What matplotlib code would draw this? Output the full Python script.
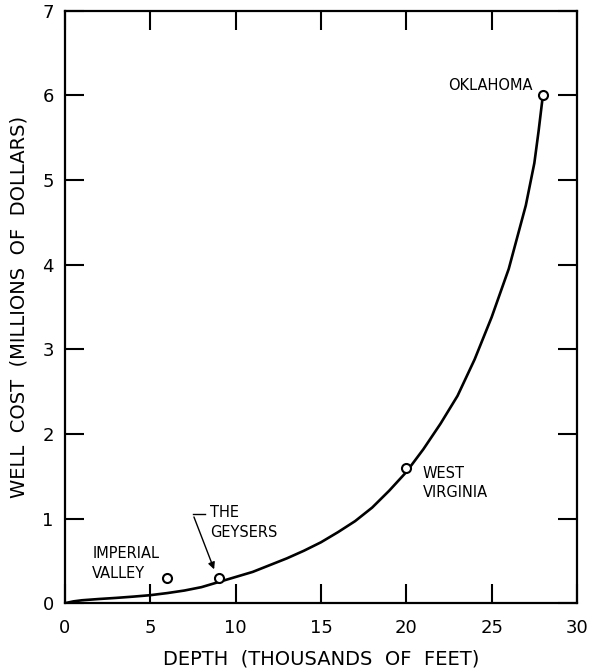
import matplotlib.pyplot as plt

# cost curve (depth in thousands of feet, cost in millions of $)
curve_depth = [0, 0.5, 1, 2, 3, 4, 5, 6, 7, 8, 9, 10, 11, 12, 13, 14, 15, 16, 17, 18, 19,
               20, 21, 22, 23, 24, 25, 26, 27, 27.5, 27.75, 28]
curve_cost = [0, 0.022, 0.035, 0.05, 0.063, 0.078, 0.095, 0.12, 0.15, 0.19, 0.25, 0.31,
              0.37, 0.45, 0.53, 0.62, 0.72, 0.84, 0.97, 1.13, 1.33, 1.55, 1.82, 2.12, 2.45,
              2.88, 3.38, 3.95, 4.7, 5.2, 5.58, 6.0]

# individual sites
site_names = ['IMPERIAL\nVALLEY', 'THE\nGEYSERS', 'WEST\nVIRGINIA', 'OKLAHOMA']
site_depth = [6, 9, 20, 28]
site_cost = [0.3, 0.3, 1.6, 6.0]

x_ticks = [0, 5, 10, 15, 20, 25, 30]
y_ticks = [0, 1, 2, 3, 4, 5, 6, 7]

plt.rcParams['font.family'] = ['DejaVu Sans']

fig = plt.figure(figsize=(5.9, 6.71), dpi=100)
ax = fig.add_axes([0.110, 0.101, 0.868, 0.883])

ax.plot(curve_depth, curve_cost, color='black', linewidth=1.9, zorder=2,
        solid_joinstyle='round')
ax.plot(site_depth, site_cost, linestyle='none', marker='o', markersize=6.5,
        markerfacecolor='white', markeredgecolor='black', markeredgewidth=1.5, zorder=3)

# labels next to each site
lab_kw = dict(fontsize=10.5, color='black', linespacing=1.4)
ax.text(1.6, 0.47, site_names[0], ha='left', va='center', **lab_kw)
ax.text(8.5, 0.95, site_names[1], ha='left', va='center', **lab_kw)
ax.text(20.95, 1.42, site_names[2], ha='left', va='center', **lab_kw)
ax.text(27.4, 6.12, site_names[3], ha='right', va='center', **lab_kw)

# leader arrow for The Geysers
ax.plot([7.5, 8.2], [1.05, 1.05], color='black', linewidth=1)
ax.annotate('', xy=(site_depth[1] - 0.2, site_cost[1] + 0.07), xytext=(7.5, 1.05),
            arrowprops=dict(arrowstyle='-|>', color='black', lw=1, mutation_scale=10))

ax.set_xlim(0, 30)
ax.set_ylim(0, 7)
ax.set_xticks(x_ticks)
ax.set_yticks(y_ticks)
ax.tick_params(direction='in', length=14, width=1.5, top=True, right=True,
               labelsize=13, pad=8)
ax.tick_params(axis='x', pad=11)
for s in ax.spines.values():
    s.set_linewidth(1.6)

ax.set_xlabel('DEPTH  (THOUSANDS  OF  FEET)', fontsize=14, labelpad=9)
ax.set_ylabel('WELL  COST  (MILLIONS  OF  DOLLARS)', fontsize=14, labelpad=10)

fig.savefig('out.png', dpi=100)
